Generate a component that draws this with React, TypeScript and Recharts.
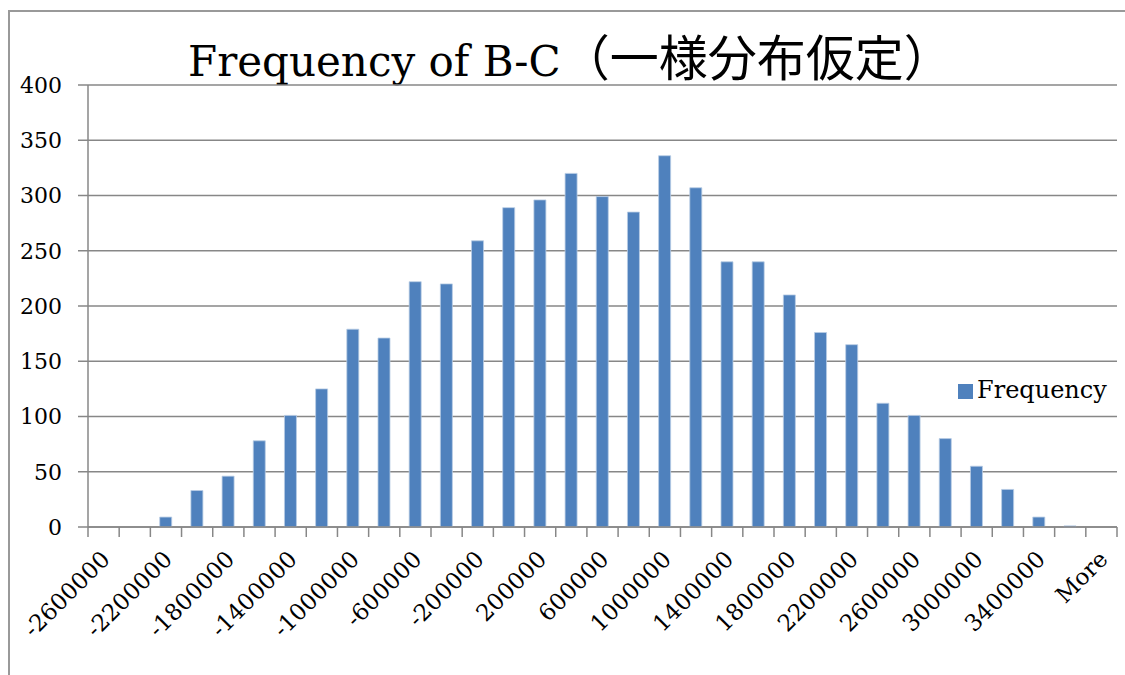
import React from "react";
import { BarChart, Bar, XAxis, YAxis, CartesianGrid, Legend } from "recharts";

const bins = [
  "-2600000", "-2400000", "-2200000", "-2000000", "-1800000", "-1600000",
  "-1400000", "-1200000", "-1000000", "-800000", "-600000", "-400000",
  "-200000", "0", "200000", "400000", "600000", "800000", "1000000",
  "1200000", "1400000", "1600000", "1800000", "2000000", "2200000",
  "2400000", "2600000", "2800000", "3000000", "3200000", "3400000",
  "3600000", "More",
];

const frequency = [
  0, 0, 9, 33, 46, 78, 101, 125, 179, 171, 222, 220, 259, 289, 296, 320,
  299, 285, 336, 307, 240, 240, 210, 176, 165, 112, 101, 80, 55, 34, 9, 1, 0,
];

const yTicks = [0, 50, 100, 150, 200, 250, 300, 350, 400];

const data = bins.map((bin, i) => ({ bin, Frequency: frequency[i] }));

const FONT = "'DejaVu Serif', 'Noto Sans CJK JP', serif";
const GRID = "#878787";

function BinTick(props: any) {
  const { x, y, payload, index } = props;
  const half = payload && payload.offset ? payload.offset : 15.6;
  const last = index === bins.length - 1;
  const lx = x + 2;
  const ly = y + 20;
  return (
    <g>
      <line x1={x - half} y1={y - 8} x2={x - half} y2={y + 2} stroke={GRID} strokeWidth={1.5} />
      {last && (
        <line x1={x + half} y1={y - 8} x2={x + half} y2={y + 2} stroke={GRID} strokeWidth={1.5} />
      )}
      {index % 2 === 0 && (
        <text
          x={lx}
          y={ly}
          transform={`rotate(-45 ${lx} ${ly})`}
          textAnchor="end"
          dominantBaseline="central"
          fontFamily={FONT}
          fontSize={23}
          fill="#000"
        >
          {payload.value}
        </text>
      )}
    </g>
  );
}

export default function App() {
  return (
    <div
      style={{
        position: "absolute",
        left: 0,
        top: 0,
        width: 1125,
        height: 675,
        background: "#fff",
        overflow: "hidden",
      }}
    >
      <div
        style={{
          position: "absolute",
          left: 8,
          top: 10,
          width: 1200,
          height: 700,
          borderLeft: "2px solid #999",
          borderTop: "2px solid #999",
        }}
      />
      <div
        style={{
          position: "absolute",
          left: 188,
          top: 39,
          fontFamily: FONT,
          fontSize: 42,
          lineHeight: "42px",
          whiteSpace: "nowrap",
          color: "#000",
        }}
      >
        Frequency of B-C<span style={{ fontSize: 49 }}>（一様分布仮定）</span>
      </div>
      <BarChart
        width={1125}
        height={675}
        data={data}
        margin={{ top: 85, right: 8, bottom: 0, left: 0 }}
        barCategoryGap="30%"
        style={{ position: "absolute", left: 0, top: 0 }}
      >
        <CartesianGrid vertical={false} stroke={GRID} strokeWidth={1.5} />
        <XAxis
          dataKey="bin"
          interval={0}
          tickLine={false}
          axisLine={{ stroke: GRID, strokeWidth: 1.5 }}
          tick={<BinTick />}
          height={148}
        />
        <YAxis
          width={88}
          domain={[0, 400]}
          ticks={yTicks}
          interval={0}
          tickSize={10}
          tickMargin={16}
          tickLine={{ stroke: GRID, strokeWidth: 1.5 }}
          axisLine={{ stroke: GRID, strokeWidth: 1.5 }}
          tick={{ fontFamily: FONT, fontSize: 22, fill: "#000" }}
        />
        <Legend
          layout="horizontal"
          verticalAlign="middle"
          align="center"
          iconType="square"
          iconSize={15}
          wrapperStyle={{ left: 958, top: 376, width: "auto", fontFamily: FONT, fontSize: 24 }}
          formatter={(value: string) => <span style={{ color: "#000" }}>{value}</span>}
        />
        <Bar
          dataKey="Frequency"
          fill="#4f81bd"
          stroke="#b9cde5"
          strokeWidth={0.8}
          isAnimationActive={false}
        />
      </BarChart>
    </div>
  );
}
